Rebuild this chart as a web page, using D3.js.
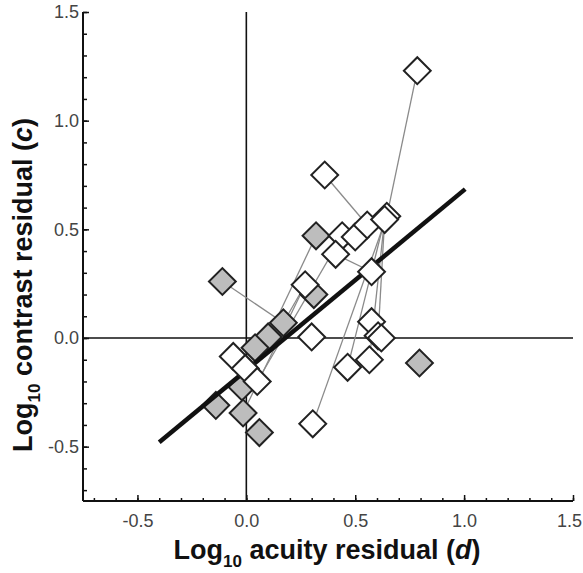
<!DOCTYPE html>
<html><head><meta charset="utf-8">
<script src="https://cdn.jsdelivr.net/npm/d3@7"></script>
<style>body{margin:0;background:#fff}svg{display:block}</style>
</head><body><svg id="c" width="583" height="573"></svg>
<script>
// ---- data ----
const xTickLabels = ["-0.5", "0.0", "0.5", "1.0", "1.5"];
const xTickValues = [-0.5, 0, 0.5, 1.0, 1.5];
const yTickLabels = ["-0.5", "0.0", "0.5", "1.0", "1.5"];
const yTickValues = [-0.5, 0, 0.5, 1.0, 1.5];

// filled (grey) diamonds
const grayIds = ["g0","g1","g2","g3","g4","g5","g6","g7","g8","g9","g10"];
const grayX = [-0.11, 0.32, 0.17, 0.10, 0.04, -0.02, -0.14, -0.015, 0.06, 0.31, 0.795];
const grayY = [0.26, 0.47, 0.07, 0.005, -0.045, -0.225, -0.31, -0.345, -0.435, 0.20, -0.115];

// open (white) diamonds
const whiteIds = ["w0","w1","w2","w3","w4","w5","w6","w7","w8","w9","w10","w11","w12","w13","w14","w15","w16","w17","w18","w19"];
const whiteX = [0.785, 0.36, 0.44, 0.50, 0.555, 0.645, 0.635, 0.41, 0.575, 0.27, 0.30, 0.575, 0.605, 0.62, 0.465, 0.565, 0.305, -0.06, -0.005, 0.05];
const whiteY = [1.23, 0.75, 0.47, 0.465, 0.52, 0.56, 0.545, 0.385, 0.305, 0.245, 0.005, 0.075, 0.01, 0.0, -0.135, -0.10, -0.395, -0.085, -0.14, -0.20];

// connecting lines between paired points
const linkFrom = ["g0","g1","w9","w9","w1","w0","w16","w14","w15","w7","w2","w6"];
const linkTo   = ["g2","g3","g2","g7","w4","w5","w5","w6","w6","w8","w19","w12"];

// regression line
const fitX = [-0.40, 1.005];
const fitY = [-0.48, 0.685];

// ---- drawing ----
const svg = d3.select("#c");
const font = "'Liberation Sans', Arial, Helvetica, sans-serif";
const x = d3.scaleLinear().domain([-0.75, 1.5]).range([83, 573]);
const y = d3.scaleLinear().domain([-0.75, 1.5]).range([501, 12]);

const pos = {};
grayIds.forEach((id, i) => pos[id] = [grayX[i], grayY[i]]);
whiteIds.forEach((id, i) => pos[id] = [whiteX[i], whiteY[i]]);

// zero reference lines
svg.append("line").attr("x1", x(0)).attr("x2", x(0)).attr("y1", y(1.5)).attr("y2", y(-0.75))
  .attr("stroke", "#111").attr("stroke-width", 1.6);
svg.append("line").attr("x1", x(-0.75)).attr("x2", x(1.5)).attr("y1", y(0)).attr("y2", y(0))
  .attr("stroke", "#111").attr("stroke-width", 1.6);

// axes
const gx = svg.append("g").attr("transform", `translate(0,${y(-0.75)})`);
gx.call(d3.axisBottom(x).tickValues(x.ticks(22)).tickSize(-3).tickFormat(""));
gx.call(g => g.append("g").call(d3.axisBottom(x).tickValues(xTickValues).tickSize(-6)
  .tickFormat((d, i) => xTickLabels[i]).tickPadding(13)));
const gy = svg.append("g").attr("transform", `translate(${x(-0.75)},0)`);
gy.call(d3.axisLeft(y).tickValues(y.ticks(22)).tickSize(-4).tickFormat(""));
gy.call(g => g.append("g").call(d3.axisLeft(y).tickValues(yTickValues).tickSize(-6)
  .tickFormat((d, i) => yTickLabels[i]).tickPadding(4)));
svg.selectAll(".domain").attr("stroke", "#111").attr("stroke-width", 2);
svg.selectAll(".tick line").attr("stroke", "#111").attr("stroke-width", 1.5);
svg.selectAll(".tick text").attr("font-family", font).attr("font-size", 18).attr("fill", "#444");
gx.selectAll(".tick text").filter(d => d === 1.5).attr("dx", -4);
gx.selectAll(".domain").attr("d", `M${x(-0.75)},0H${x(1.5)}`);
gy.selectAll(".domain").attr("d", `M0,${y(-0.75)}V${y(1.5)}`);

// connecting lines
svg.append("g").selectAll("line").data(linkFrom.map((f, i) => [pos[f], pos[linkTo[i]]]))
  .join("line")
  .attr("x1", d => x(d[0][0])).attr("y1", d => y(d[0][1]))
  .attr("x2", d => x(d[1][0])).attr("y2", d => y(d[1][1]))
  .attr("stroke", "#8a8a8a").attr("stroke-width", 1.3);

const diamond = d3.symbol().type(d3.symbolSquare).size(19 * 19);
function drawDiamonds(xs, ys, fill) {
  svg.append("g").selectAll("path").data(xs.map((v, i) => [v, ys[i]])).join("path")
    .attr("d", diamond)
    .attr("transform", d => `translate(${x(d[0])},${y(d[1])}) rotate(45)`)
    .attr("fill", fill).attr("stroke", "#222").attr("stroke-width", 2);
}
drawDiamonds(grayX, grayY, "#bdbdbd");

// regression line
svg.append("line")
  .attr("x1", x(fitX[0])).attr("y1", y(fitY[0]))
  .attr("x2", x(fitX[1])).attr("y2", y(fitY[1]))
  .attr("stroke", "#111").attr("stroke-width", 4.5);

drawDiamonds(whiteX, whiteY, "#ffffff");

// axis titles
const xt = svg.append("text").attr("x", 327).attr("y", 559).attr("text-anchor", "middle")
  .attr("font-family", font).attr("font-weight", "bold").attr("font-size", 27).attr("fill", "#111");
xt.append("tspan").text("Log");
xt.append("tspan").text("10").attr("font-size", 17).attr("dy", 8);
xt.append("tspan").text(" acuity residual (").attr("dy", -8);
xt.append("tspan").text("d").attr("font-style", "italic");
xt.append("tspan").text(")");

const yt = svg.append("text").attr("transform", "translate(32,285) rotate(-90)").attr("text-anchor", "middle")
  .attr("font-family", font).attr("font-weight", "bold").attr("font-size", 27).attr("fill", "#111");
yt.append("tspan").text("Log");
yt.append("tspan").text("10").attr("font-size", 17).attr("dy", 8);
yt.append("tspan").text(" contrast residual (").attr("dy", -8);
yt.append("tspan").text("c").attr("font-style", "italic");
yt.append("tspan").text(")");
</script>
</body></html>
